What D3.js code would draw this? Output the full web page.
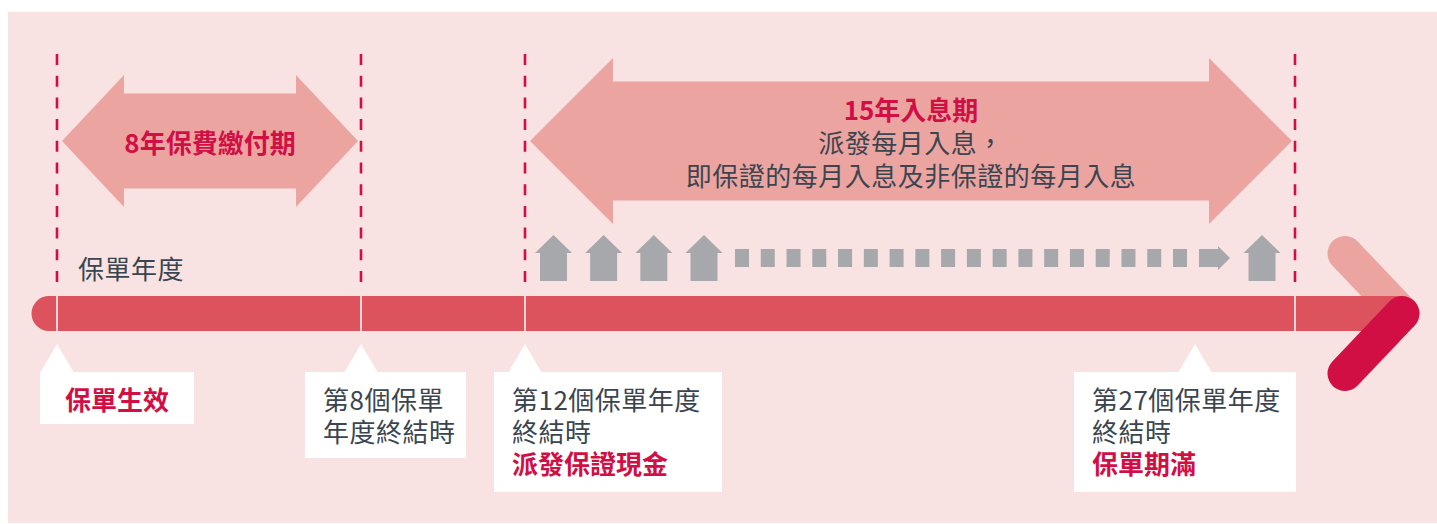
<!DOCTYPE html>
<html>
<head>
<meta charset="utf-8">
<script src="https://cdn.jsdelivr.net/npm/d3@7"></script>
<style>
  html, body { margin: 0; padding: 0; background: #fff; }
  svg { display: block; font-family: "Noto Sans CJK TC", "Noto Sans", sans-serif; }
</style>
</head>
<body>
<div id="chart"></div>
<script>
// milestone policy years on the timeline
const milestoneYears = [0, 8, 12, 27];

// the two periods shown as double arrows
const periodStart = [0, 12];
const periodEnd = [8, 27];
const periodTitles = ['8年保費繳付期', '15年入息期'];
const periodNotes = [[], ['派發每月入息，', '即保證的每月入息及非保證的每月入息']];

// callouts under the timeline (hi = highlighted line)
const calloutYears = [0, 8, 12, 27];
const calloutLines = [
    [{text: '保單生效', hi: true}],
    [{text: '第8個保單', hi: false}, {text: '年度終結時', hi: false}],
    [{text: '第12個保單年度', hi: false}, {text: '終結時', hi: false}, {text: '派發保證現金', hi: true}],
    [{text: '第27個保單年度', hi: false}, {text: '終結時', hi: false}, {text: '保單期滿', hi: true}]
];

// monthly payout strip: first few payouts, the dotted run, the final payout
const firstPayouts = [1, 2, 3, 4];
const dottedPayouts = d3.range(5, 23);
const lastPayout = [180];

const axisLabel = '保單年度';

const W = 1437, H = 524;
const COLORS = {
    bg: '#f9e3e2',
    bar: '#dc525d',
    soft: '#eca4a1',
    crimson: '#d20f45',
    grey: '#a7a8ac',
    text: '#3b4550'
};

const svg = d3.select('#chart').append('svg')
    .attr('width', W)
    .attr('height', H);

svg.append('rect')
    .attr('x', 8).attr('y', 12)
    .attr('width', W - 8).attr('height', H - 13)
    .attr('fill', COLORS.bg);

// piecewise scale: policy year -> x
const x = d3.scaleLinear()
    .domain(milestoneYears)
    .range([57, 361, 525, 1295]);

const BAR_Y = 296, BAR_H = 35, BAR_END = 1402;
const barMid = BAR_Y + BAR_H / 2;

// chevron top arm (under the bar)
svg.append('line')
    .attr('x1', 1345).attr('y1', barMid - 60)
    .attr('x2', BAR_END).attr('y2', barMid)
    .attr('stroke', COLORS.soft)
    .attr('stroke-width', 35)
    .attr('stroke-linecap', 'round');

// timeline bar
svg.append('path')
    .attr('d', `M${x(0)},${BAR_Y} H${BAR_END} V${BAR_Y + BAR_H} H${x(0)} H${x(0) - 8}
        A${BAR_H / 2},${BAR_H / 2} 0 0 1 ${x(0) - 8},${BAR_Y} Z`)
    .attr('fill', COLORS.bar);

// chevron bottom arm
svg.append('line')
    .attr('x1', BAR_END).attr('y1', barMid)
    .attr('x2', 1345).attr('y2', barMid + 60)
    .attr('stroke', COLORS.crimson)
    .attr('stroke-width', 35)
    .attr('stroke-linecap', 'round');

// white ticks on the bar
svg.selectAll('.tick-line')
    .data(milestoneYears)
    .enter()
    .append('line')
    .attr('class', 'tick-line')
    .attr('x1', d => x(d)).attr('x2', d => x(d))
    .attr('y1', BAR_Y).attr('y2', BAR_Y + BAR_H)
    .attr('stroke', '#fff')
    .attr('stroke-width', 1.5);

// dashed guides
svg.selectAll('.guide')
    .data(milestoneYears)
    .enter()
    .append('line')
    .attr('class', 'guide')
    .attr('x1', d => x(d)).attr('x2', d => x(d))
    .attr('y1', 54).attr('y2', 283)
    .attr('stroke', COLORS.crimson)
    .attr('stroke-width', 2.6)
    .attr('stroke-dasharray', '11,10.7');

svg.append('text')
    .attr('x', 78)
    .attr('y', 267)
    .attr('dominant-baseline', 'central')
    .attr('font-size', 26)
    .attr('letter-spacing', 0.5)
    .attr('fill', COLORS.text)
    .text(axisLabel);

// double arrows for the periods
const arrowShape = [
    {cy: 141, shaft: 47.5, head: 66, len: 62},
    {cy: 141, shaft: 59.5, head: 83, len: 83}
];

function doubleArrow(x0, x1, s) {
    const {cy, shaft, head, len} = s;
    return `M${x0},${cy} L${x0 + len},${cy - head} V${cy - shaft} H${x1 - len} V${cy - head}
        L${x1},${cy} L${x1 - len},${cy + head} V${cy + shaft} H${x0 + len} V${cy + head} Z`;
}

periodStart.forEach((start, i) => {
    const x0 = x(start) + 5;
    const x1 = x(periodEnd[i]) - 3;
    const s = arrowShape[i];
    const g = svg.append('g').attr('class', 'period');

    g.append('path')
        .attr('d', doubleArrow(x0, x1, s))
        .attr('fill', COLORS.soft);

    const notes = periodNotes[i];
    const lineH = 33;
    const top = s.cy - (notes.length * lineH) / 2;
    const cx = (x0 + x1) / 2;

    const label = g.append('text')
        .attr('text-anchor', 'middle')
        .attr('dominant-baseline', 'central')
        .attr('font-size', 26);

    label.append('tspan')
        .attr('x', cx)
        .attr('y', top)
        .attr('font-weight', 700)
        .attr('fill', COLORS.crimson)
        .text(periodTitles[i]);

    notes.forEach((n, j) => {
        label.append('tspan')
            .attr('x', cx)
            .attr('y', top + (j + 1) * lineH)
            .attr('letter-spacing', 0.5)
            .attr('fill', COLORS.text)
            .text(n);
    });
});

// payout strip
const houseX = d3.scaleLinear().domain([1, 4]).range([553.5, 704]);
const dotX = d3.scaleLinear().domain([5, 22]).range([742, 1180]);

function house(cx) {
    const top = 235, shoulder = 253, bottom = 281, roof = 18.5, body = 13.5;
    return `M${cx},${top} L${cx + roof},${shoulder} H${cx + body} V${bottom} H${cx - body}
        V${shoulder} H${cx - roof} Z`;
}

svg.selectAll('.payout-first')
    .data(firstPayouts)
    .enter()
    .append('path')
    .attr('class', 'payout-first')
    .attr('d', d => house(houseX(d)))
    .attr('fill', COLORS.grey);

svg.selectAll('.payout-dot')
    .data(dottedPayouts)
    .enter()
    .append('rect')
    .attr('class', 'payout-dot')
    .attr('x', d => dotX(d) - 7)
    .attr('y', 249)
    .attr('width', 14)
    .attr('height', 18)
    .attr('fill', COLORS.grey);

// small right arrow closing the dotted run
const runEnd = dotX(d3.max(dottedPayouts)) + 19;
svg.append('path')
    .attr('d', `M${runEnd},249 H${runEnd + 19} V246 L${runEnd + 31},258 L${runEnd + 19},270 V267 H${runEnd} Z`)
    .attr('fill', COLORS.grey);

svg.selectAll('.payout-last')
    .data(lastPayout)
    .enter()
    .append('path')
    .attr('class', 'payout-last')
    .attr('d', () => house(runEnd + 63))
    .attr('fill', COLORS.grey);

// callouts
const calloutBox = [
    {left: 40, width: 154, ptr: 0},
    {left: 305, width: 161, ptr: 0},
    {left: 494, width: 228, ptr: 0},
    {left: 1074, width: 222, ptr: -100}
];
const BOX_TOP = 372, PTR_TIP = 344, LINE_H = 32;

calloutYears.forEach((yr, i) => {
    const b = calloutBox[i];
    const lines = calloutLines[i];
    const px = x(yr) + b.ptr;
    const h = 18 + lines.length * 34;
    const g = svg.append('g').attr('class', 'callout');

    g.append('rect')
        .attr('x', b.left).attr('y', BOX_TOP)
        .attr('width', b.width).attr('height', h)
        .attr('fill', '#fff');

    g.append('path')
        .attr('d', `M${px},${PTR_TIP} L${px + 17},${BOX_TOP + 1} H${Math.max(b.left, px - 17)} Z`)
        .attr('fill', '#fff');

    const textX = i === 0 ? b.left + 25 : b.left + 18;
    const label = g.append('text')
        .attr('dominant-baseline', 'central')
        .attr('font-size', 26);

    lines.forEach((l, j) => {
        label.append('tspan')
            .attr('x', textX)
            .attr('y', 398 + j * LINE_H)
            .attr('font-weight', l.hi ? 700 : 400)
            .attr('letter-spacing', l.hi ? 0 : 0.5)
            .attr('fill', l.hi ? COLORS.crimson : COLORS.text)
            .text(l.text);
    });
});
</script>
</body>
</html>
